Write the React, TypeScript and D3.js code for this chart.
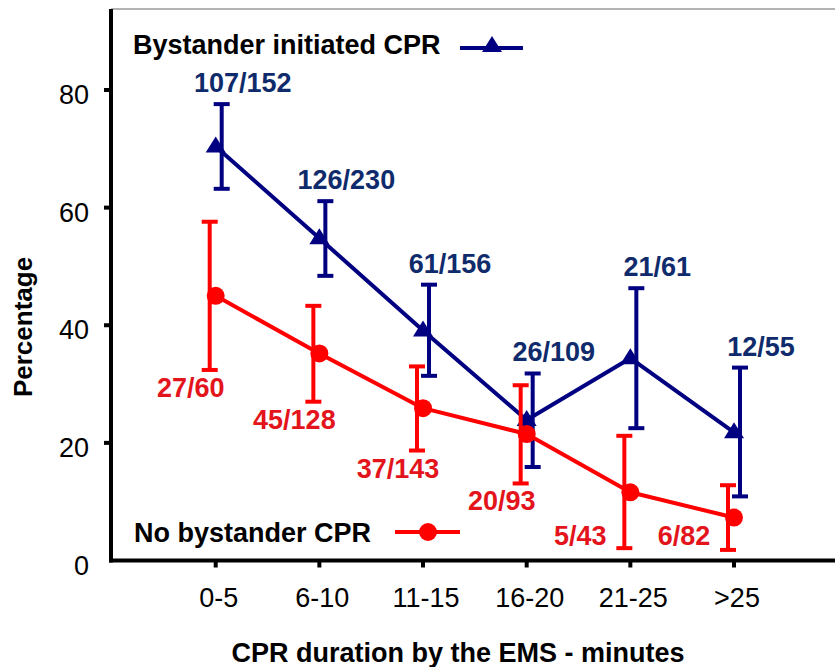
import React from "react";
import * as d3 from "d3";

const categories = ["0-5", "6-10", "11-15", "16-20", "21-25", ">25"];
const bystanderPct = [70.4, 54.8, 39.1, 23.9, 34.4, 21.8];
const bystanderLow = [63.2, 48.4, 31.4, 15.9, 22.5, 10.9];
const bystanderHigh = [77.6, 61.1, 46.9, 31.8, 46.3, 32.8];
const bystanderLabels = ["107/152", "126/230", "61/156", "26/109", "21/61", "12/55"];
const noBystanderPct = [45.0, 35.2, 25.9, 21.5, 11.6, 7.3];
const noBystanderLow = [32.4, 27.0, 18.7, 13.1, 2.1, 1.8];
const noBystanderHigh = [57.6, 43.3, 33.0, 29.8, 21.2, 12.8];
const noBystanderLabels = ["27/60", "45/128", "37/143", "20/93", "5/43", "6/82"];
const yTicks = [0, 20, 40, 60, 80];

const BLUE = "#000080";
const BLUE_TEXT = "#0f2b6b";
const RED = "#ff0000";
const RED_TEXT = "#e3141b";
const FONT = "'Liberation Sans', Arial, Helvetica, sans-serif";

export default function App() {
  const W = 835, H = 667;
  const axisLeft = 111, axisBottom = 560.5, axisTop = 9, axisRight = 835;
  const x = d3.scalePoint<string>().domain(categories).range([215.7, 734]);
  const y = d3.scaleLinear().domain([0, 80]).range([axisBottom, 90]);

  const blueLine = d3.line<number>().x((_, i) => x(categories[i])!).y((d) => y(d));
  const tri = "M0,-10 L10,6 L-10,6 Z";
  const errOff = 6;
  const cap = 8;

  return (
    <svg width={W} height={H} style={{ position: "absolute", left: 0, top: 0, background: "#fff" }} fontFamily={FONT}>
      <rect x={0} y={0} width={W} height={H} fill="#fff" />
      {/* frame */}
      <line x1={axisLeft} x2={axisRight} y1={axisTop} y2={axisTop} stroke="#b3b3b3" strokeWidth={2} />
      <line x1={axisLeft} x2={axisLeft} y1={axisTop} y2={axisBottom + 2} stroke="#000" strokeWidth={4} />
      <line x1={axisLeft - 2} x2={axisRight} y1={axisBottom} y2={axisBottom} stroke="#000" strokeWidth={4} />
      {/* y ticks */}
      {yTicks.map((t) => (
        <g key={t}>
          {t !== 0 && <line x1={axisLeft - 7} x2={axisLeft} y1={y(t)} y2={y(t)} stroke="#000" strokeWidth={4} />}
          <text x={89} y={y(t) + 14} textAnchor="end" fontSize={27} fill="#000">{t}</text>
        </g>
      ))}
      {/* x ticks */}
      {categories.map((c) => (
        <g key={c}>
          <line x1={x(c)!} x2={x(c)!} y1={axisBottom} y2={axisBottom + 7} stroke="#000" strokeWidth={4} />
          <text x={x(c)! + 3} y={607} textAnchor="middle" fontSize={27} fill="#000">{c}</text>
        </g>
      ))}
      {/* axis titles */}
      <text transform="translate(32,327) rotate(-90)" textAnchor="middle" fontSize={26} fontWeight="bold" fill="#000">Percentage</text>
      <text x={458} y={662} textAnchor="middle" fontSize={27} fontWeight="bold" fill="#000">CPR duration by the EMS - minutes</text>

      {/* bystander series */}
      <path d={blueLine(bystanderPct)!} fill="none" stroke={BLUE} strokeWidth={4} strokeLinejoin="round" />
      {categories.map((c, i) => {
        const ex = x(c)! + errOff;
        return (
          <g key={"be" + c} stroke={BLUE} strokeWidth={4}>
            <line x1={ex} x2={ex} y1={y(bystanderHigh[i])} y2={y(bystanderLow[i])} />
            <line x1={ex - cap} x2={ex + cap} y1={y(bystanderHigh[i])} y2={y(bystanderHigh[i])} />
            <line x1={ex - cap} x2={ex + cap} y1={y(bystanderLow[i])} y2={y(bystanderLow[i])} />
          </g>
        );
      })}
      {categories.map((c, i) => (
        <path key={"bm" + c} d={tri} transform={`translate(${x(c)},${y(bystanderPct[i])})`} fill={BLUE} />
      ))}
      {categories.map((c, i) => (
        <text key={"bl" + c} x={x(c)! + 27} y={y(bystanderHigh[i]) - 12} textAnchor="middle" fontSize={27} fontWeight="bold" fill={BLUE_TEXT}>
          {bystanderLabels[i]}
        </text>
      ))}

      {/* no bystander series */}
      <path d={blueLine(noBystanderPct)!} fill="none" stroke={RED} strokeWidth={4} strokeLinejoin="round" />
      {categories.map((c, i) => {
        const ex = x(c)! - errOff;
        return (
          <g key={"re" + c} stroke={RED} strokeWidth={4}>
            <line x1={ex} x2={ex} y1={y(noBystanderHigh[i])} y2={y(noBystanderLow[i])} />
            <line x1={ex - cap} x2={ex + cap} y1={y(noBystanderHigh[i])} y2={y(noBystanderHigh[i])} />
            <line x1={ex - cap} x2={ex + cap} y1={y(noBystanderLow[i])} y2={y(noBystanderLow[i])} />
          </g>
        );
      })}
      {categories.map((c, i) => (
        <circle key={"rm" + c} cx={x(c)!} cy={y(noBystanderPct[i])} r={9} fill={RED} />
      ))}
      {categories.map((c, i) => {
        const below = y(noBystanderLow[i]) + 27;
        const tooLow = below > 548;
        return (
          <text key={"rl" + c} x={x(c)! + (tooLow ? -50 : -25)} y={tooLow ? 545 : below} textAnchor="middle" fontSize={27} fontWeight="bold" fill={RED_TEXT}>
            {noBystanderLabels[i]}
          </text>
        );
      })}

      {/* legends */}
      <text x={133} y={54} fontSize={27} fontWeight="bold" fill="#000">Bystander initiated CPR</text>
      <line x1={460} x2={523} y1={48} y2={48} stroke={BLUE} strokeWidth={4} />
      <path d={tri} transform="translate(492,46)" fill={BLUE} />
      <text x={134} y={542} fontSize={27} fontWeight="bold" fill="#000">No bystander CPR</text>
      <line x1={395} x2={460} y1={532} y2={532} stroke={RED} strokeWidth={4} />
      <circle cx={428} cy={532} r={9} fill={RED} />
    </svg>
  );
}
